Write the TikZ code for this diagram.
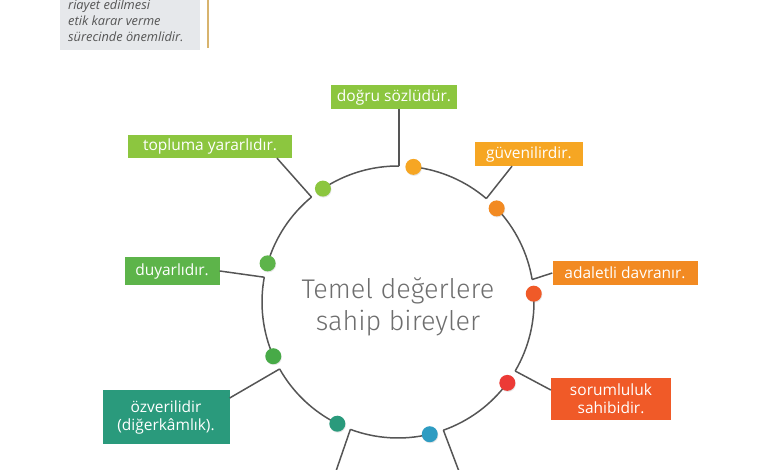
\documentclass[tikz,border=0pt]{standalone}
\usepackage{fontspec}
\setmainfont{Open Sans}
\newfontfamily\lightfont{Fira Sans Light}
\usetikzlibrary{shadows}
\definecolor{lgreen}{HTML}{8CC63F}
\definecolor{mgreen}{HTML}{5DB44A}
\definecolor{dgreen}{HTML}{47AA47}
\definecolor{yorange}{HTML}{F6A623}
\definecolor{morange}{HTML}{F28A22}
\definecolor{rorange}{HTML}{F05A28}
\definecolor{rred}{HTML}{EC3A36}
\definecolor{cblue}{HTML}{2E9CC2}
\definecolor{teal}{HTML}{2A9A7C}
\definecolor{linegray}{HTML}{555555}
\definecolor{notegray}{HTML}{E6E8EB}
\definecolor{goldline}{HTML}{D8B46E}
\tikzstyle{valuebox} = [rectangle, inner sep=0pt, text=white, align=center, font=\fontsize{15.5}{18}\selectfont]
\tikzstyle{dot} = [circle, minimum size=16pt, inner sep=0pt, drop shadow={opacity=0.2, shadow xshift=0.6pt, shadow yshift=-1pt}]
\tikzstyle{link} = [draw=linegray, line width=1.5pt]
\begin{document}
\begin{tikzpicture}[x=1pt,y=1pt]
		\useasboundingbox (0,0) rectangle (780,470);
		\clip (0,0) rectangle (780,470);
		% note at the top
		\fill[notegray] (60,420) rectangle (200,480);
		\node (note) [anchor=south west, inner sep=0pt, align=left, text=linegray, font=\itshape\fontsize{12.8}{16}\selectfont] at (68,428) {riayet edilmesi\\etik karar verme\\sürecinde önemlidir.};
		\draw[goldline, line width=1.5pt] (208,475) -- (208,422);
		% circle
		\coordinate (c) at (398,168);
		\node (title) [align=center, text=linegray!85, font=\lightfont\fontsize{27}{31.5}\selectfont] at (398,163) {Temel değerlere\\sahip bireyler};
		\foreach \a [count=\i] in {123.5,83.5,43.5,3.5,-36.5,-76.5,-116.5,-156.5,163.5}
			\draw[link] ([shift={(\a:136)}]c) arc[start angle=\a, end angle=\a-34, radius=136] coordinate (k\i);
		% values
		\node (dogru) [valuebox, fill=lgreen, minimum width=126pt, minimum height=24pt] at (394,373) {doğru sözlüdür.};
		\node (guven) [valuebox, fill=yorange, minimum width=108pt, minimum height=24pt] at (529,316) {güvenilirdir.};
		\node (adalet) [valuebox, fill=morange, minimum width=145pt, minimum height=24pt] at (625,197) {adaletli davranır.};
		\node (sorum) [valuebox, fill=rorange, minimum width=120pt, minimum height=42pt] at (611,71) {sorumluluk\\sahibidir.};
		\node (ozveri) [valuebox, fill=teal, minimum width=127pt, minimum height=54pt] at (166,53) {özverilidir\\(diğerkâmlık).};
		\node (duyarli) [valuebox, fill=mgreen, minimum width=95pt, minimum height=28pt] at (172,199) {duyarlıdır.};
		\node (topluma) [valuebox, fill=lgreen, minimum width=164pt, minimum height=23pt] at (210,323.5) {topluma yararlıdır.};
		\coordinate (b1) at (460,-4);
		\coordinate (b2) at (335,-4);
		\draw[link] (k1) -- (k1 |- dogru.south);
		\draw[link] (k2) -- ([xshift=-17pt]guven.south);
		\draw[link] (k3) -- (adalet.west);
		\draw[link] (k4) -- ([yshift=9pt]sorum.west);
		\draw[link] (k5) -- (b1);
		\draw[link] (k6) -- (b2);
		\draw[link] (k7) -- ([yshift=19pt]ozveri.east);
		\draw[link] (k8) -- (duyarli.east);
		\draw[link] (k9) -- ([xshift=67pt]topluma.south);
		% dots
		\foreach \a/\col [count=\i] in {123.5/lgreen,83.5/yorange,43.5/morange,3.5/rorange,-36.5/rred,-76.5/cblue,-116.5/teal,-156.5/dgreen,163.5/mgreen}
			\node (d\i) [dot, fill=\col] at ([shift={(\a:136)}]c) {};
	\end{tikzpicture}
\end{document}
